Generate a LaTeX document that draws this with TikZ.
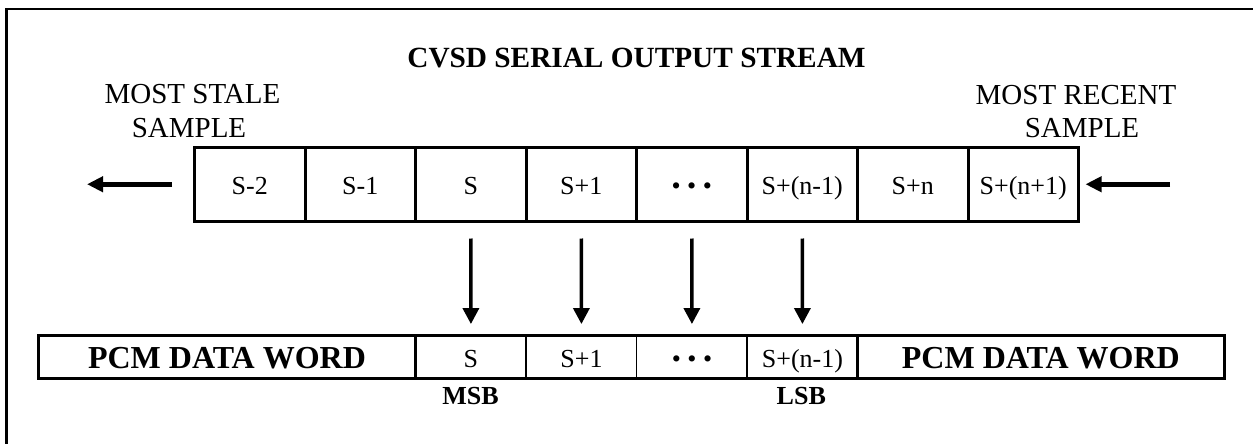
\documentclass[tikz,border=0pt]{standalone}
\usepackage{fontspec}
\setmainfont{Liberation Serif}
\usetikzlibrary{arrows.meta,positioning}
\begin{document}
\begin{tikzpicture}[x=1pt,y=-1pt,
  cell/.style={draw, line width=3pt, minimum width=110.5pt, minimum height=74.5pt,
    inner sep=0pt, outer sep=0pt, font=\fontsize{26}{30}\selectfont,
    text height=22pt, text depth=1.4pt},
  bcell/.style={draw, line width=1.5pt, minimum width=110.5pt, minimum height=43.3pt,
    inner sep=0pt, outer sep=0pt, font=\fontsize{26}{30}\selectfont,
    text height=22pt, text depth=1pt},
  pcm/.style={draw, line width=3pt, minimum height=43.3pt, inner sep=0pt, outer sep=0pt,
    font=\bfseries\fontsize{32}{36}\selectfont, text height=24pt, text depth=0.8pt},
  lbl/.style={anchor=base, inner sep=0pt, font=\fontsize{29}{34}\selectfont},
  bitlbl/.style={anchor=base, inner sep=0pt, font=\bfseries\fontsize{26}{30}\selectfont},
  harrow/.style={line width=5pt, -{Triangle[length=16pt,width=15pt]}},
  varrow/.style={line width=3.5pt, -{Triangle[length=16pt,width=16pt]}}
]
\useasboundingbox (0,0) rectangle (1253,444);
% frame
\draw[line width=2.5pt] (6.5,444) -- (6.5,9) -- (1253,9);

% title and labels
\node[anchor=base, inner sep=0pt, font=\bfseries\fontsize{29.3}{34}\selectfont] (title) at (636.5,68) {CVSD SERIAL OUTPUT STREAM};
\node[lbl] (stale1) at (192.5,103.3) {MOST STALE};
\node[lbl] (stale2) at (189,137.3) {SAMPLE};
\node[lbl] (recent1) at (1076,104.3) {MOST RECENT};
\node[lbl] (recent2) at (1082,137.3) {SAMPLE};

% top register
\node[cell] (c1) at (249.75,184.25) {S-2};
\node[cell, right=0pt of c1] (c2) {S-1};
\node[cell, right=0pt of c2] (c3) {S};
\node[cell, right=0pt of c3] (c4) {S+1};
\node[cell, right=0pt of c4] (c5) {•\ •\ •};
\node[cell, right=0pt of c5] (c6) {S+(n-1)};
\node[cell, right=0pt of c6] (c7) {S+n};
\node[cell, right=0pt of c7] (c8) {S+(n+1)};

% bottom word
\node[pcm, minimum width=377.4pt] (pl) at (227,356.7) {PCM DATA WORD};
\node[bcell, right=0pt of pl] (b1) {S};
\node[bcell, right=0pt of b1] (b2) {S+1};
\node[bcell, right=0pt of b2] (b3) {•\ •\ •};
\node[bcell, right=0pt of b3] (b4) {S+(n-1)};
\node[pcm, minimum width=366.3pt, right=0pt of b4] (pr) {PCM DATA WORD};
\draw[line width=3pt] (pl.north west) rectangle (pr.south east);
\draw[line width=3pt] (pl.north east) -- (pl.south east);
\draw[line width=3pt] (pr.north west) -- (pr.south west);

\node[bitlbl] (msb) at (470.5,404) {MSB};
\node[bitlbl] (lsb) at (801.3,404) {LSB};

% arrows
\coordinate (lend) at (87,184.25);
\coordinate (rstart) at (1170,184.25);
\draw[harrow, shorten <=22.5pt] (c1.west) -- (lend);
\draw[harrow, shorten >=7pt] (rstart) -- (c8.east);
\draw[varrow, shorten <=17pt, shorten >=11pt] (c3.south) -- (b1.north);
\draw[varrow, shorten <=17pt, shorten >=11pt] (c4.south) -- (b2.north);
\draw[varrow, shorten <=17pt, shorten >=11pt] (c5.south) -- (b3.north);
\draw[varrow, shorten <=17pt, shorten >=11pt] (c6.south) -- (b4.north);
\end{tikzpicture}
\end{document}
